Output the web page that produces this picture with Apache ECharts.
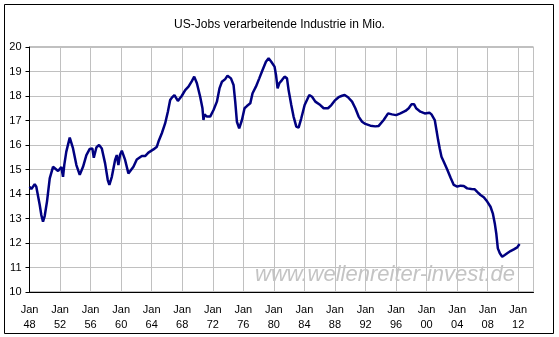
<!DOCTYPE html>
<html>
<head>
<meta charset="utf-8">
<script src="https://cdn.jsdelivr.net/npm/echarts@6/dist/echarts.min.js"></script>
<style>
  html, body { margin: 0; padding: 0; background: #fff; }
  #chart { width: 559px; height: 337px; }
</style>
</head>
<body>
<div id="chart"></div>
<script>
// decimal year, manufacturing jobs (millions)
var years = [
  1948.03, 1948.24, 1948.68, 1948.89, 1949.34, 1949.55, 1949.77, 1949.99, 1950.29, 1950.65,
  1951.08, 1951.74, 1952.17, 1952.39, 1952.56, 1952.82, 1953.27, 1953.48, 1953.70, 1954.14,
  1954.58, 1955.01, 1955.45, 1955.89, 1956.23, 1956.42, 1956.76, 1957.11, 1957.47, 1957.90,
  1958.25, 1958.46, 1958.78, 1959.21, 1959.43, 1959.64, 1959.86, 1960.09, 1960.52, 1960.95,
  1961.18, 1961.61, 1962.05, 1962.71, 1963.14, 1963.57, 1964.23, 1964.68, 1964.89, 1965.33,
  1965.76, 1966.12, 1966.42, 1966.64, 1966.98, 1967.43, 1967.95, 1968.39, 1968.82, 1969.26,
  1969.57, 1969.92, 1970.35, 1970.65, 1970.78, 1970.92, 1971.23, 1971.66, 1972.10, 1972.54,
  1972.88, 1973.20, 1973.63, 1973.93, 1974.38, 1974.72, 1974.94, 1975.16, 1975.46, 1975.82,
  1976.16, 1976.47, 1976.91, 1977.21, 1977.65, 1978.09, 1978.52, 1978.96, 1979.31, 1979.66,
  1980.09, 1980.28, 1980.49, 1980.71, 1981.06, 1981.40, 1981.72, 1981.93, 1982.28, 1982.58,
  1982.94, 1983.24, 1983.59, 1984.03, 1984.64, 1985.00, 1985.43, 1986.08, 1986.52, 1987.09,
  1987.53, 1987.96, 1988.48, 1988.93, 1989.27, 1989.71, 1990.24, 1990.67, 1991.10, 1991.55,
  1991.98, 1992.64, 1993.29, 1993.73, 1994.38, 1994.96, 1995.48, 1996.01, 1996.57, 1997.23,
  1997.66, 1998.01, 1998.37, 1998.63, 1999.19, 1999.76, 2000.37, 2000.64, 2001.07, 2001.29,
  2001.51, 2001.72, 2001.95, 2002.25, 2002.70, 2003.13, 2003.56, 2004.01, 2004.44, 2004.87,
  2005.31, 2005.88, 2006.31, 2006.63, 2007.06, 2007.49, 2007.94, 2008.37, 2008.67, 2008.93,
  2009.12, 2009.33, 2009.59, 2009.90, 2010.24, 2010.56, 2010.99, 2011.42, 2011.87, 2012.17
];
var jobs = [
  14.30, 14.20, 14.40, 14.30, 13.55, 13.14, 12.87, 13.10, 13.69, 14.64,
  15.11, 14.94, 15.10, 14.70, 15.20, 15.73, 16.30, 16.30, 15.86, 15.18,
  14.78, 15.11, 15.59, 15.84, 15.86, 15.48, 15.90, 16.00, 15.86, 15.25,
  14.57, 14.37, 14.70, 15.39, 15.59, 15.18, 15.60, 15.77, 15.39, 14.84,
  14.80, 15.11, 15.41, 15.55, 15.55, 15.69, 15.82, 15.93, 16.14, 16.48,
  16.88, 17.36, 17.84, 17.93, 18.04, 17.80, 18.01, 18.24, 18.38, 18.61,
  18.79, 18.52, 17.97, 17.50, 17.02, 17.25, 17.16, 17.16, 17.43, 17.77,
  18.31, 18.58, 18.69, 18.83, 18.72, 18.45, 17.77, 16.95, 16.68, 17.02,
  17.50, 17.59, 17.70, 18.11, 18.38, 18.72, 19.06, 19.40, 19.54, 19.40,
  19.20, 18.86, 18.31, 18.52, 18.65, 18.79, 18.72, 18.24, 17.63, 17.16,
  16.75, 16.71, 17.09, 17.63, 18.04, 17.97, 17.77, 17.63, 17.50, 17.50,
  17.63, 17.81, 17.95, 18.01, 18.04, 17.95, 17.77, 17.50, 17.16, 16.95,
  16.86, 16.79, 16.76, 16.78, 17.02, 17.29, 17.25, 17.22, 17.29, 17.39,
  17.50, 17.66, 17.66, 17.50, 17.36, 17.29, 17.32, 17.25, 17.02, 16.61,
  16.20, 15.86, 15.52, 15.32, 15.00, 14.67, 14.37, 14.30, 14.34, 14.33,
  14.23, 14.20, 14.19, 14.09, 13.96, 13.87, 13.69, 13.48, 13.21, 12.80,
  12.40, 11.78, 11.58, 11.44, 11.51, 11.58, 11.67, 11.74, 11.82, 11.96
];
var titleText = 'US-Jobs verarbeitende Industrie in Mio.';
var watermark = 'www.wellenreiter-invest.de';

var font = 'Arial, "Liberation Sans", sans-serif';
var chart = echarts.init(document.getElementById('chart'));

chart.setOption({
  animation: false,
  backgroundColor: '#fff',
  title: {
    text: titleText,
    left: 'center',
    top: 14,
    textStyle: { fontFamily: font, fontSize: 12, fontWeight: 'normal', color: '#000' }
  },
  grid: {
    left: 29.5, right: 25.5, top: 47, bottom: 45,
    show: true, borderColor: '#808080', borderWidth: 1
  },
  xAxis: {
    type: 'value',
    min: 1948,
    max: 2014,
    interval: 4,
    axisLine: { lineStyle: { color: '#000' } },
    axisTick: { show: false },
    splitLine: { lineStyle: { color: '#c0c0c0' } },
    axisLabel: {
      margin: 10,
      fontFamily: font,
      fontSize: 11,
      color: '#000',
      lineHeight: 15,
      formatter: function (v) {
        if (v % 4 !== 0) return '';
        return 'Jan\n' + String(v).slice(2);
      }
    }
  },
  yAxis: {
    type: 'value',
    min: 10,
    max: 20,
    interval: 1,
    axisLine: { show: true, lineStyle: { color: '#000' } },
    axisTick: { show: true, length: 4, lineStyle: { color: '#000' } },
    splitLine: { lineStyle: { color: '#c0c0c0' } },
    axisLabel: { margin: 8, fontFamily: font, fontSize: 11, color: '#000' }
  },
  graphic: [
    {
      type: 'rect',
      shape: { x: 4.5, y: 4.5, width: 549, height: 329 },
      style: { fill: 'none', stroke: '#000', lineWidth: 1 },
      silent: true
    },
    {
      type: 'text',
      left: 255,
      top: 264,
      z: 1,
      style: {
        text: watermark,
        font: 'italic 22px ' + font,
        fill: '#c4c4c4'
      },
      silent: true
    }
  ],
  series: [{
    type: 'line',
    data: years.map(function (y, i) { return [y, jobs[i]]; }),
    showSymbol: false,
    smooth: false,
    lineStyle: { color: '#000080', width: 2.5 },
    z: 5
  }]
});
</script>
</body>
</html>
